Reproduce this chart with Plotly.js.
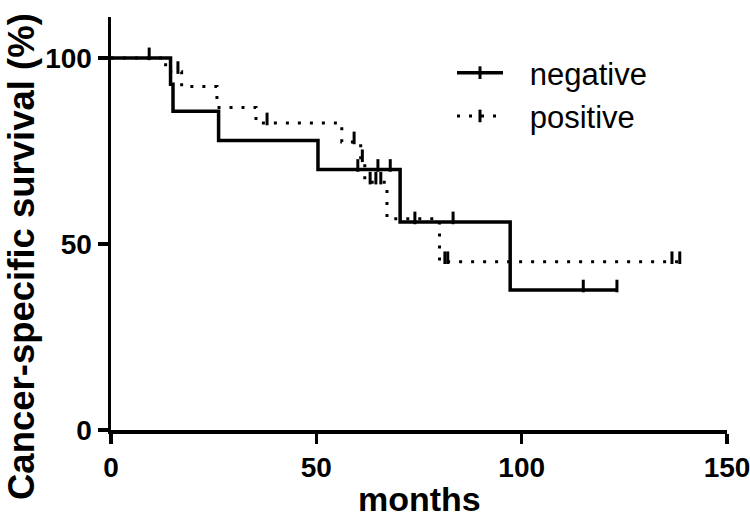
<!DOCTYPE html>
<html><head><meta charset="utf-8">
<script src="https://cdn.plot.ly/plotly-3.0.1.min.js"></script>
<style>html,body{margin:0;padding:0;background:#fff}#chart{width:750px;height:519px}</style>
</head><body><div id="chart"></div>
<script>
// ---- data ----
const negTime = [0, 14.5, 15.1, 26.2, 50.4, 70.4, 97.2, 123.2];
const negSurv = [100, 92.9, 85.7, 77.8, 70.0, 55.9, 37.6, 37.6];
const negCensTime = [9.3, 60.1, 65.0, 68.0, 74.0, 83.3, 115.0, 123.2];
const negCensSurv = [100, 70.0, 70.0, 70.0, 55.9, 55.9, 37.6, 37.6];

const posTime = [0, 13.3, 17.2, 25.8, 35.3, 56.2, 60.8, 61.8, 67.2, 80.0, 138.5];
const posSurv = [100, 96.3, 92.3, 86.7, 82.5, 77.4, 72.6, 66.6, 56.8, 45.2, 45.2];
const posCensTime = [16.3, 38.0, 59.2, 61.2, 63.1, 64.5, 65.7, 81.3, 82.0, 136.6, 138.5];
const posCensSurv = [96.3, 82.5, 77.4, 72.6, 66.6, 66.6, 66.6, 45.2, 45.2, 45.2, 45.2];

const seriesNames = ['negative', 'positive'];
const xTickVals = [0, 50, 100, 150];
const yTickVals = [0, 50, 100];
const xTitle = 'months';
const yTitle = 'Cancer-specific survival (%)';

// ---- styling ----
const FONT = 'Arial, "Liberation Sans", Helvetica, sans-serif';
const LIFT = 1.1; // censor tick drawn just above the curve
const lift = arr => arr.map(v => v + LIFT);
const legendPad = '\u2002\u2009';
const solidLine = {color: '#000', width: 3.5, shape: 'hv'};
const dotLine = {color: '#000', width: 3, shape: 'hv', dash: '3px,9px'};
const tickMarker = {symbol: 'line-ns-open', size: 9, color: '#000', line: {color: '#000', width: 3}};

const traces = [
  {x: posTime, y: posSurv, mode: 'lines', line: dotLine, showlegend: false, hoverinfo: 'skip'},
  {x: posCensTime, y: lift(posCensSurv), mode: 'markers', marker: tickMarker, showlegend: false, cliponaxis: false},
  {x: negTime, y: negSurv, mode: 'lines', line: solidLine, showlegend: false, hoverinfo: 'skip'},
  {x: negCensTime, y: lift(negCensSurv), mode: 'markers', marker: tickMarker, showlegend: false, cliponaxis: false},
  {x: [null], y: [null], name: legendPad + seriesNames[0], legendgroup: 'a', mode: 'lines+markers', line: solidLine, marker: tickMarker},
  {x: [null], y: [null], name: legendPad + seriesNames[1], legendgroup: 'b', mode: 'lines+markers', line: dotLine, marker: tickMarker}
];

const W = 750, H = 519, L = 111, R = 23, T = 17, B = 89;
const pw = W - L - R, ph = H - T - B;
const px2paperX = p => (p - L) / pw;
const px2paperY = p => (H - B - p) / ph;

const axisCommon = {
  showline: true, linecolor: '#000', linewidth: 3.5, mirror: false,
  ticks: 'outside', ticklen: 10, tickwidth: 3.5, tickcolor: '#000',
  showgrid: false, zeroline: false, fixedrange: true, ticklabeloverflow: 'allow',
  tickfont: {family: FONT, size: 28, color: '#000', weight: 'bold'}
};

const layout = {
  width: W, height: H,
  margin: {l: L, r: R, t: T, b: B, pad: 0},
  paper_bgcolor: '#fff', plot_bgcolor: '#fff',
  xaxis: Object.assign({}, axisCommon, {range: [0, 150], tickvals: xTickVals, ticktext: xTickVals.map(String)}),
  yaxis: Object.assign({}, axisCommon, {range: [0, 111], tickvals: yTickVals, ticktext: yTickVals.map(String)}),
  showlegend: true,
  legend: {
    x: px2paperX(452), y: px2paperY(46), xanchor: 'left', yanchor: 'top',
    bgcolor: 'rgba(0,0,0,0)', borderwidth: 0, itemwidth: 46,
    font: {family: FONT, size: 31, color: '#000'}, tracegroupgap: 0
  },
  annotations: [
    {text: '<b>' + xTitle + '</b>', xref: 'paper', yref: 'paper', x: 0.5, y: px2paperY(499),
     xanchor: 'center', yanchor: 'middle', showarrow: false, font: {family: FONT, size: 34, color: '#000'}},
    {text: '<b>' + yTitle + '</b>', xref: 'paper', yref: 'paper', x: px2paperX(21), y: px2paperY(257),
     xanchor: 'center', yanchor: 'middle', textangle: -90, showarrow: false, font: {family: FONT, size: 36.5, color: '#000'}}
  ]
};

Plotly.newPlot('chart', traces, layout, {displayModeBar: false, staticPlot: true});
</script>
</body></html>
